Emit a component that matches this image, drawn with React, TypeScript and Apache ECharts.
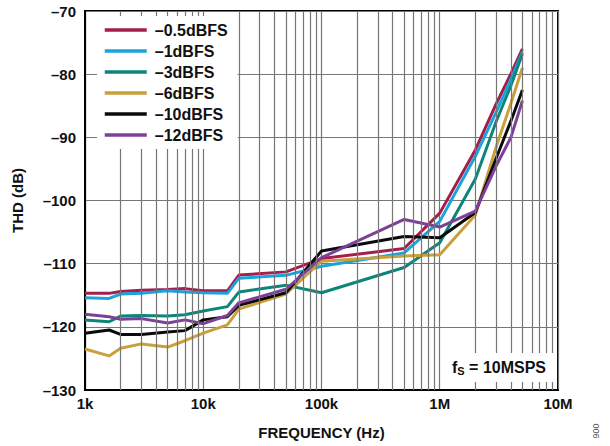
import React, { useEffect, useRef } from "react";
import * as echarts from "echarts";

const freqHz = [1000, 1600, 2000, 3000, 5000, 7000, 10000, 16000, 20000, 50000, 100000, 500000, 1000000, 2000000, 3000000, 4000000, 5000000];

const thdM05 = [-114.7, -114.7, -114.4, -114.2, -114.1, -113.95, -114.3, -114.3, -111.8, -111.3, -109.2, -107.6, -102.0, -92.0, -84.7, -79.9, -76.0];
const thdM1 = [-115.4, -115.5, -114.8, -114.7, -114.3, -114.5, -114.6, -114.7, -112.3, -111.85, -110.4, -108.3, -103.3, -93.0, -86.0, -80.8, -76.5];
const thdM3 = [-118.9, -119.2, -118.3, -118.2, -118.3, -118.1, -117.5, -116.8, -114.5, -113.4, -114.6, -110.6, -106.7, -96.6, -87.5, -81.8, -76.8];
const thdM6 = [-123.5, -124.6, -123.4, -122.7, -123.2, -122.2, -121.0, -119.7, -117.2, -114.8, -109.6, -108.8, -108.6, -102.3, -91.5, -84.6, -79.0];
const thdM10 = [-121.0, -120.5, -121.2, -121.2, -120.8, -120.6, -118.9, -118.4, -116.6, -114.6, -108.0, -105.7, -105.9, -101.9, -93.3, -87.4, -82.5];
const thdM12 = [-118.0, -118.4, -118.8, -118.7, -119.4, -118.9, -119.5, -118.2, -116.2, -114.05, -109.05, -103.0, -104.2, -101.7, -94.5, -90.0, -84.2];

const seriesNames = ["–0.5dBFS", "–1dBFS", "–3dBFS", "–6dBFS", "–10dBFS", "–12dBFS"];
const seriesColors = ["#A51D4A", "#1AA3DC", "#0E8579", "#C9A03A", "#0A0A0A", "#7D3F98"];
const seriesValues = [thdM05, thdM1, thdM3, thdM6, thdM10, thdM12];

const xTickLabels = ["1k", "10k", "100k", "1M", "10M"];
const decadeStarts = [1000, 10000, 100000, 1000000];
const minorMultipliers = [2, 3, 4, 5, 6, 7, 8, 9];

const FONT = "'Liberation Sans', Arial, Helvetica, sans-serif";
const GRID_COLOR = "#767676";

export default function App() {
  const ref = useRef<HTMLDivElement>(null);

  useEffect(() => {
    if (!ref.current) return;
    const chart = echarts.init(ref.current, undefined, { renderer: "svg" });

    const minorLines: any[] = [];
    decadeStarts.forEach((d) => minorMultipliers.forEach((m) => minorLines.push({ xAxis: d * m })));

    const dataSeries = seriesValues.map((vals, i) => ({
      name: seriesNames[i],
      type: "line",
      data: freqHz.map((f, j) => [f, vals[j]]),
      symbol: "none",
      smooth: false,
      z: 3,
      lineStyle: { color: seriesColors[i], width: 3 },
      itemStyle: { color: seriesColors[i] },
    }));

    const option: any = {
      animation: false,
      backgroundColor: "#ffffff",
      grid: {
        left: 85,
        right: 52,
        top: 11,
        bottom: 56,
        show: true,
        borderColor: "#000",
        borderWidth: 2,
        backgroundColor: "transparent",
      },
      legend: {
        data: seriesNames,
        orient: "vertical",
        left: 97,
        top: 16,
        padding: [6, 10, 6, 6],
        itemWidth: 42,
        itemHeight: 14,
        itemGap: 5,
        backgroundColor: "#ffffff",
        itemStyle: { opacity: 0, borderWidth: 0 },
        lineStyle: { width: 3.5, opacity: 1 },
        textStyle: { fontFamily: FONT, fontWeight: "bold", fontSize: 16, color: "#111", padding: [0, 0, 0, 3] },
        z: 10,
      },
      xAxis: {
        type: "log",
        logBase: 10,
        min: 1000,
        max: 10000000,
        name: "FREQUENCY (Hz)",
        nameLocation: "middle",
        nameGap: 35,
        nameTextStyle: { fontFamily: FONT, fontWeight: "bold", fontSize: 15, color: "#111" },
        axisLine: { show: true, lineStyle: { color: "#000", width: 2 } },
        axisTick: { show: false },
        splitLine: { show: true, lineStyle: { color: GRID_COLOR, width: 1.2 } },
        axisLabel: {
          fontFamily: FONT,
          fontWeight: "bold",
          fontSize: 15,
          color: "#111",
          margin: 6,
          showMinLabel: true,
          showMaxLabel: true,
          formatter: (v: number) => {
            const idx = Math.round(Math.log10(v)) - 3;
            return xTickLabels[idx] ?? "";
          },
        },
      },
      yAxis: {
        type: "value",
        min: -130,
        max: -70,
        interval: 10,
        name: "THD (dB)",
        nameLocation: "middle",
        nameRotate: 90,
        nameGap: 60,
        nameTextStyle: { fontFamily: FONT, fontWeight: "bold", fontSize: 15, color: "#111" },
        axisLine: { show: true, lineStyle: { color: "#000", width: 2 } },
        axisTick: { show: false },
        splitLine: { show: true, lineStyle: { color: GRID_COLOR, width: 1.2 } },
        axisLabel: {
          fontFamily: FONT,
          fontWeight: "bold",
          fontSize: 15,
          color: "#111",
          margin: 9,
          formatter: (v: number) => String(v).replace("-", "–"),
        },
      },
      graphic: [
        {
          type: "rect",
          shape: { x: 441, y: 353, width: 114, height: 29 },
          style: { fill: "#ffffff" },
          z: 50,
          silent: true,
        },
        {
          type: "text",
          x: 452,
          y: 367,
          z: 51,
          style: {
            text: "{a|f}{b|S}{a| = 10MSPS}",
            verticalAlign: "middle",
            rich: {
              a: { fontFamily: FONT, fontWeight: "bold", fontSize: 16, fill: "#111" },
              b: { fontFamily: FONT, fontWeight: "bold", fontSize: 11, fill: "#111", padding: [8, 0, 0, 0] },
            },
          },
        },
        {
          type: "text",
          x: 596,
          y: 431,
          rotation: -Math.PI / 2,
          z: 51,
          style: {
            text: "006",
            fontFamily: FONT,
            fontSize: 9,
            fill: "#555",
            align: "center",
            verticalAlign: "middle",
          },
        },
      ],
      series: [
        {
          type: "line",
          data: [],
          z: 1,
          silent: true,
          markLine: {
            silent: true,
            symbol: ["none", "none"],
            label: { show: false },
            lineStyle: { color: GRID_COLOR, width: 1.2, type: "solid" },
            emphasis: { disabled: true },
            data: minorLines,
          },
        },
        ...dataSeries,
      ],
    };

    chart.setOption(option);
    return () => chart.dispose();
  }, []);

  return <div ref={ref} style={{ position: "fixed", left: 0, top: 0, width: 610, height: 446 }} />;
}
